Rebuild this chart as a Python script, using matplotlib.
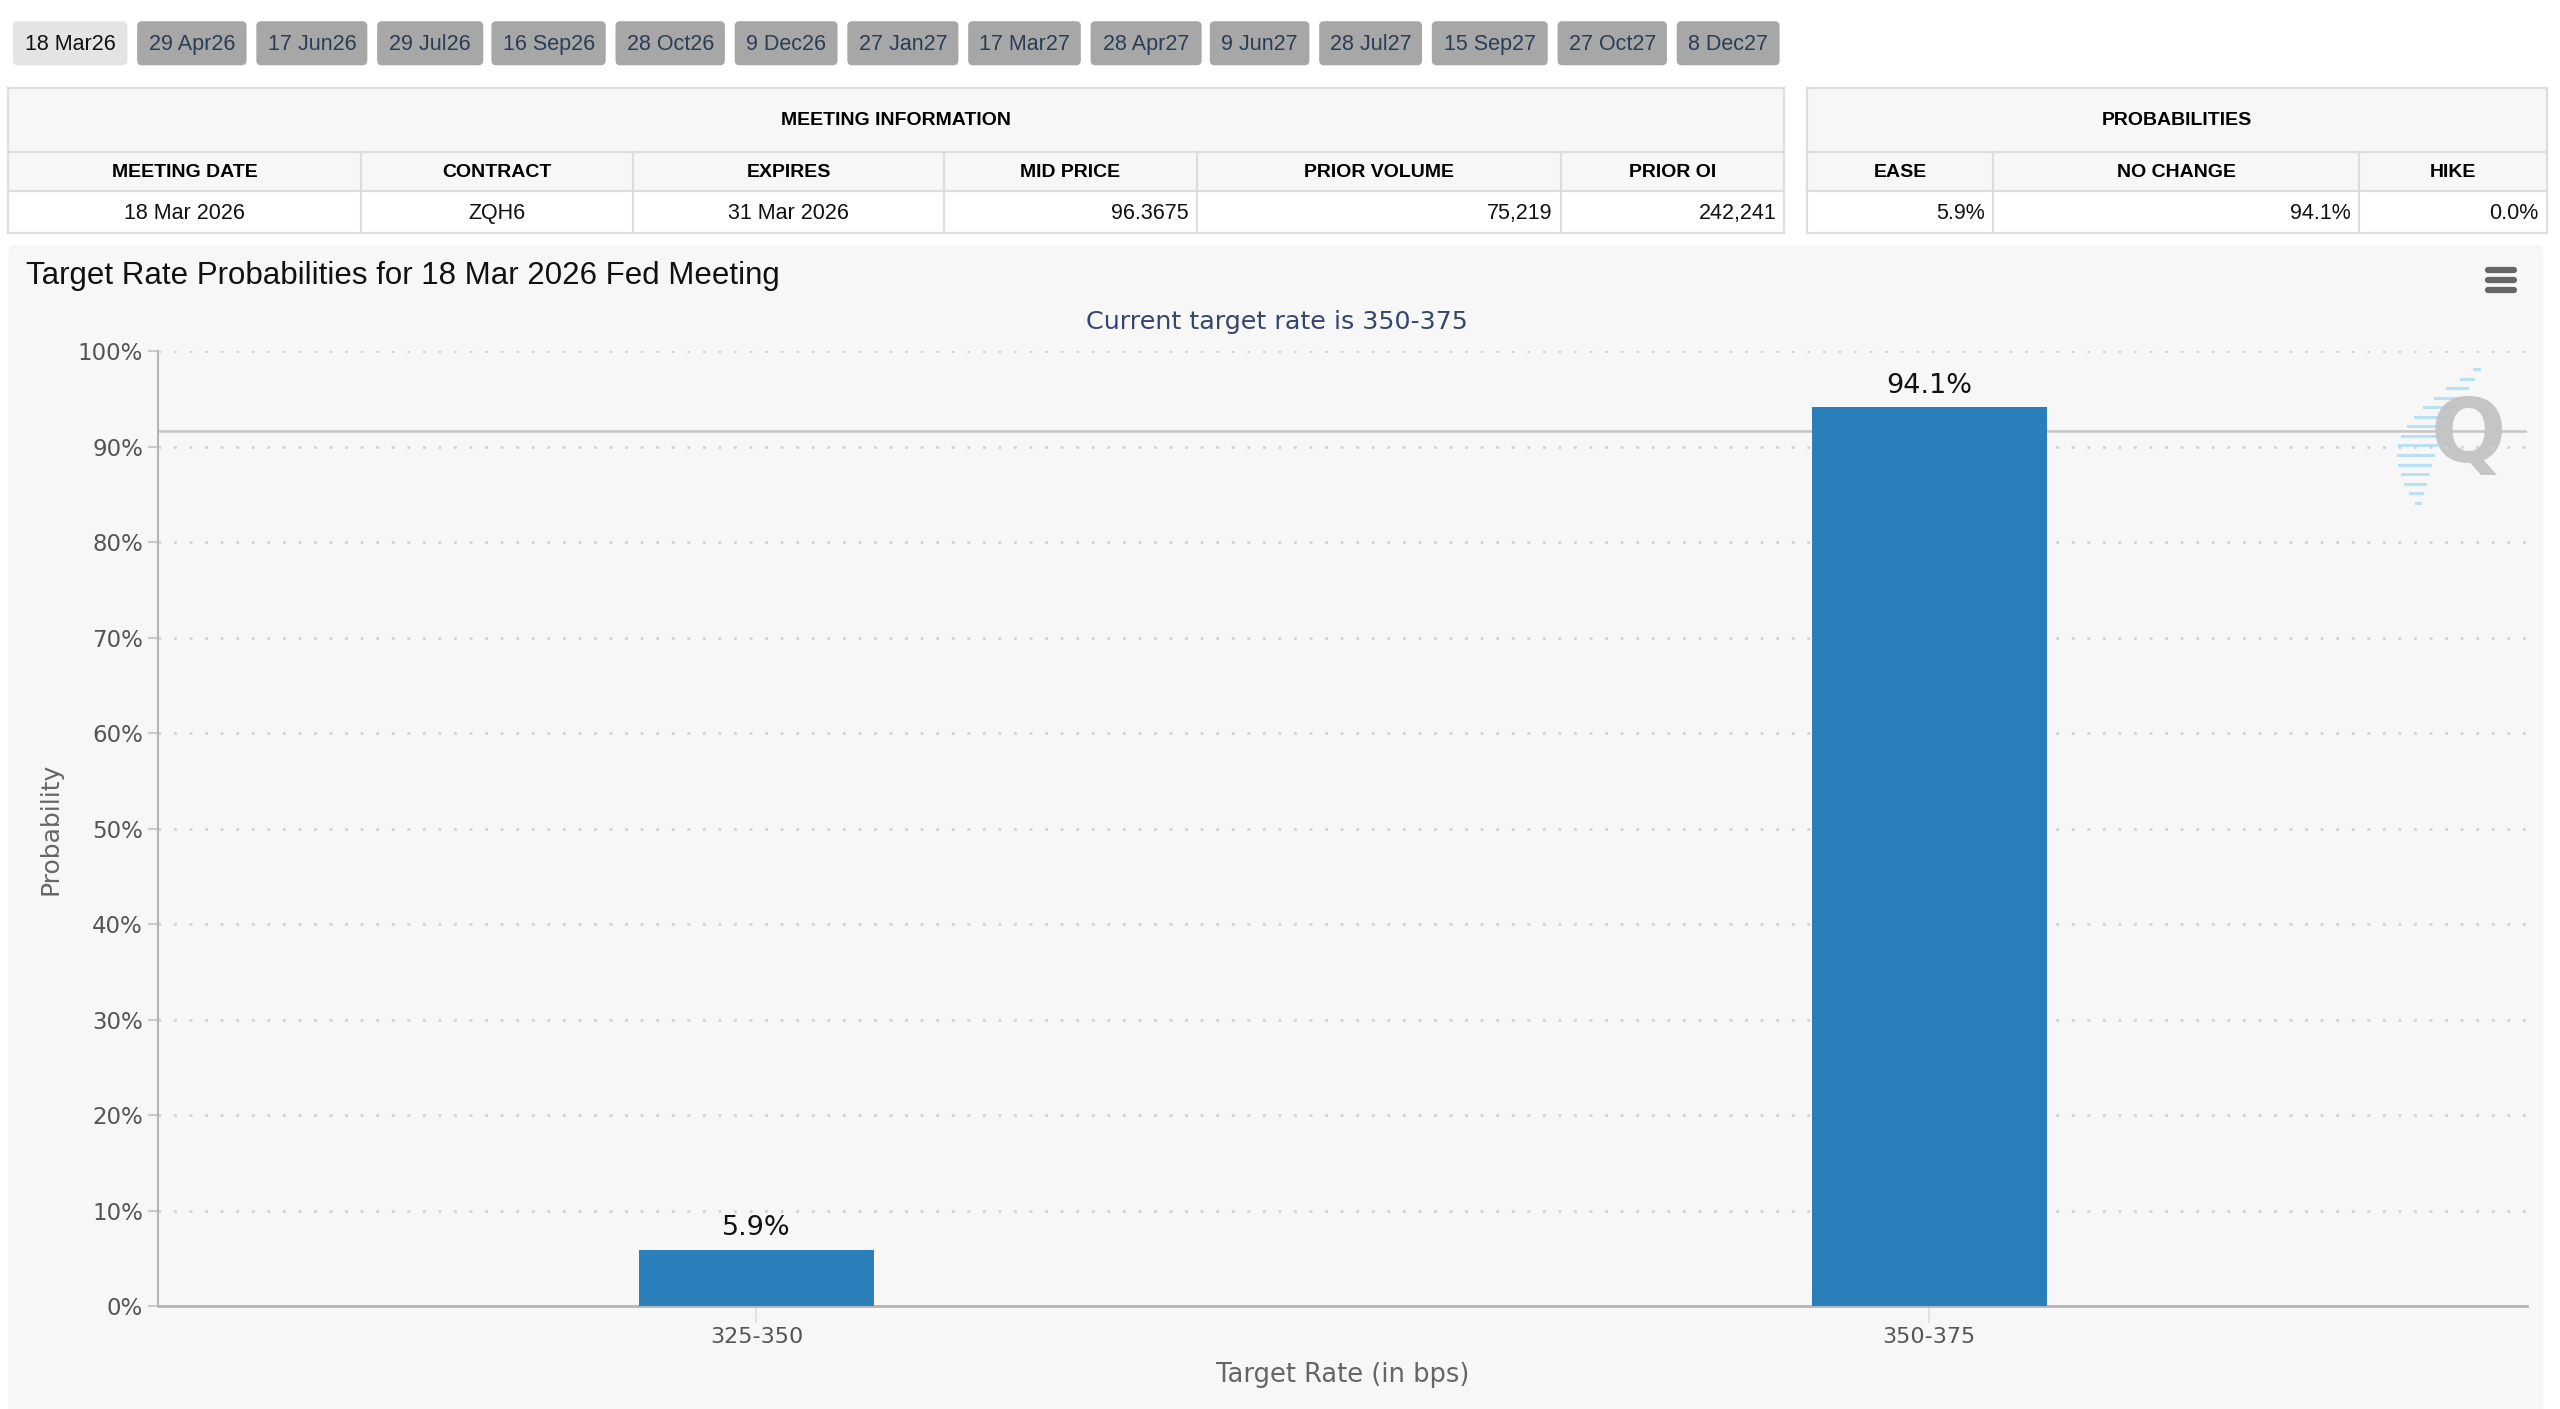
import numpy as np
import matplotlib.pyplot as plt
from matplotlib.patches import FancyBboxPatch, Rectangle

# meeting tabs across the top
tabs = ['18 Mar26', '29 Apr26', '17 Jun26', '29 Jul26', '16 Sep26', '28 Oct26', '9 Dec26',
        '27 Jan27', '17 Mar27', '28 Apr27', '9 Jun27', '28 Jul27', '15 Sep27', '27 Oct27', '8 Dec27']
active_tab = '18 Mar26'

# meeting information table
mi_headers = ['MEETING DATE', 'CONTRACT', 'EXPIRES', 'MID PRICE', 'PRIOR VOLUME', 'PRIOR OI']
mi_values = ['18 Mar 2026', 'ZQH6', '31 Mar 2026', '96.3675', '75,219', '242,241']

# probabilities table
prob_headers = ['EASE', 'NO CHANGE', 'HIKE']
prob_values = [5.9, 94.1, 0.0]

# chart data
rates = ['325-350', '350-375']
probs = [5.9, 94.1]
current_target = '350-375'
ref_line = 91.6

# layout (in reference screen units, 1568 x 863)
tab_x = [(8, 78), (84, 151), (157, 225), (231, 296), (301, 371), (377, 444), (450, 513),
         (519, 587), (593, 662), (668, 736), (741, 802), (808, 871), (877, 948), (954, 1021),
         (1027, 1090)]
mi_edges = [5, 221, 388, 578, 733, 956, 1093]
mi_align = ['center', 'center', 'center', 'right', 'right', 'right']
prob_edges = [1107, 1221, 1445, 1560]
W, H = 1568, 863

SANS = 'Liberation Sans'
border = '#dddddd'

fig = plt.figure(figsize=(25.6, 14.09), dpi=100)
fig.patch.set_facecolor('white')
bg = fig.add_axes([0, 0, 1, 1])
bg.set_xlim(0, W)
bg.set_ylim(H, 0)
bg.axis('off')

# tabs
for label, (x0, x1) in zip(tabs, tab_x):
    active = label == active_tab
    bg.add_patch(FancyBboxPatch((x0, 13), x1 - x0, 27,
                                boxstyle='round,pad=0,rounding_size=3',
                                fc='#e4e4e4' if active else '#a7a7a7', ec='none'))
    bg.text((x0 + x1) / 2, 27.5, label, ha='center', va='center', fontsize=15.5, family=SANS,
            color='#111111' if active else '#2b3d55')


def draw_table(edges, title, headers, values, aligns):
    x0, x1 = edges[0], edges[-1]
    bg.add_patch(Rectangle((x0, 54), x1 - x0, 63, fc='#f7f7f7', ec='none'))
    bg.add_patch(Rectangle((x0, 117), x1 - x0, 26, fc='white', ec='none'))
    for yy in (54, 93, 117, 143):
        bg.plot([x0, x1], [yy, yy], color=border, lw=1.6)
    for xx in (x0, x1):
        bg.plot([xx, xx], [54, 143], color=border, lw=1.6)
    for xx in edges[1:-1]:
        bg.plot([xx, xx], [93, 143], color=border, lw=1.6)
    bg.text((x0 + x1) / 2, 74, title, ha='center', va='center', fontsize=14,
            fontweight='bold', family=SANS, color='black')
    for i, h in enumerate(headers):
        a, b = edges[i], edges[i + 1]
        bg.text((a + b) / 2, 105.5, h, ha='center', va='center', fontsize=14,
                fontweight='bold', family=SANS, color='black')
        if aligns[i] == 'center':
            bg.text((a + b) / 2, 130.5, values[i], ha='center', va='center', fontsize=15.5,
                    family=SANS, color='#111111')
        else:
            bg.text(b - 5, 130.5, values[i], ha='right', va='center', fontsize=15.5,
                    family=SANS, color='#111111')


draw_table(mi_edges, 'MEETING INFORMATION', mi_headers, mi_values, mi_align)
draw_table(prob_edges, 'PROBABILITIES', prob_headers, [f'{v:.1f}%' for v in prob_values],
           ['right'] * 3)

# chart panel
bg.add_patch(FancyBboxPatch((5, 150), 1553, 725, boxstyle='round,pad=0,rounding_size=4',
                            fc='#f7f7f7', ec='none'))
bg.text(16, 169, 'Target Rate Probabilities for 18 Mar 2026 Fed Meeting', ha='left',
        va='center', fontsize=22.5, family=SANS, color='#111111')
bg.text(782, 197.5, f'Current target rate is {current_target}', ha='center', va='center',
        fontsize=18.3, family='DejaVu Sans', color='#36456b')

# hamburger menu
for yy in (165.5, 171.5, 177.5):
    bg.plot([1524, 1540], [yy, yy], color='#666666', lw=4.5, solid_capstyle='round')

# watermark logo
for t in np.linspace(0, 1, 15):
    yy = 226 + 82 * t
    xc = 1517 - 36 * t - 16 * np.sin(np.pi * t)
    ln = 3 + 20 * np.sin(np.pi * t)
    bg.plot([xc - ln / 2, xc + ln / 2], [yy, yy], color='#a9dcf3', lw=2.2, alpha=0.8)
bg.text(1512, 268, 'Q', ha='center', va='center', fontsize=64, fontweight='bold',
        family='DejaVu Sans', color='#c0c0c0', alpha=0.9)

# chart axes
ax = fig.add_axes([97 / W, 1 - 800 / H, 1451 / W, 585 / H])
ax.patch.set_alpha(0)
x = np.arange(len(rates))
bars = ax.bar(x, probs, width=0.2, color='#2a7fba', zorder=3)
ax.bar_label(bars, labels=[f'{v}%' for v in probs], padding=6, fontsize=19.5,
             color='#111111', family='DejaVu Sans')
ax.axhline(ref_line, color='#c4c4c4', lw=1.8, zorder=2)

ax.set_xlim(-0.51, len(rates) - 0.49)
ax.set_ylim(0, 100)
ax.set_yticks(range(0, 101, 10))
ax.set_yticklabels([f'{v}%' for v in range(0, 101, 10)])
ax.set_xticks(x)
ax.set_xticklabels(rates)
ax.yaxis.grid(True, linestyle=(0, (1, 4.6)), color='#d2d2d2', lw=2)
ax.set_axisbelow(True)
for side in ('top', 'right'):
    ax.spines[side].set_visible(False)
ax.spines['left'].set_color('#b5b5b5')
ax.spines['left'].set_linewidth(1.5)
ax.spines['bottom'].set_color('#b5b5b5')
ax.spines['bottom'].set_linewidth(2)
ax.tick_params(axis='y', length=7, width=1.5, color='#cccccc', labelcolor='#555555',
               labelsize=16.5, pad=4)
ax.tick_params(axis='x', length=12, width=1.2, color='#dddddd', labelcolor='#555555',
               labelsize=16, pad=3)
ax.set_xlabel('Target Rate (in bps)', fontsize=18.5, color='#666666', labelpad=11)
ax.set_ylabel('Probability', fontsize=18, color='#666666', labelpad=11)

fig.savefig('out.png', dpi=100, facecolor='white')
